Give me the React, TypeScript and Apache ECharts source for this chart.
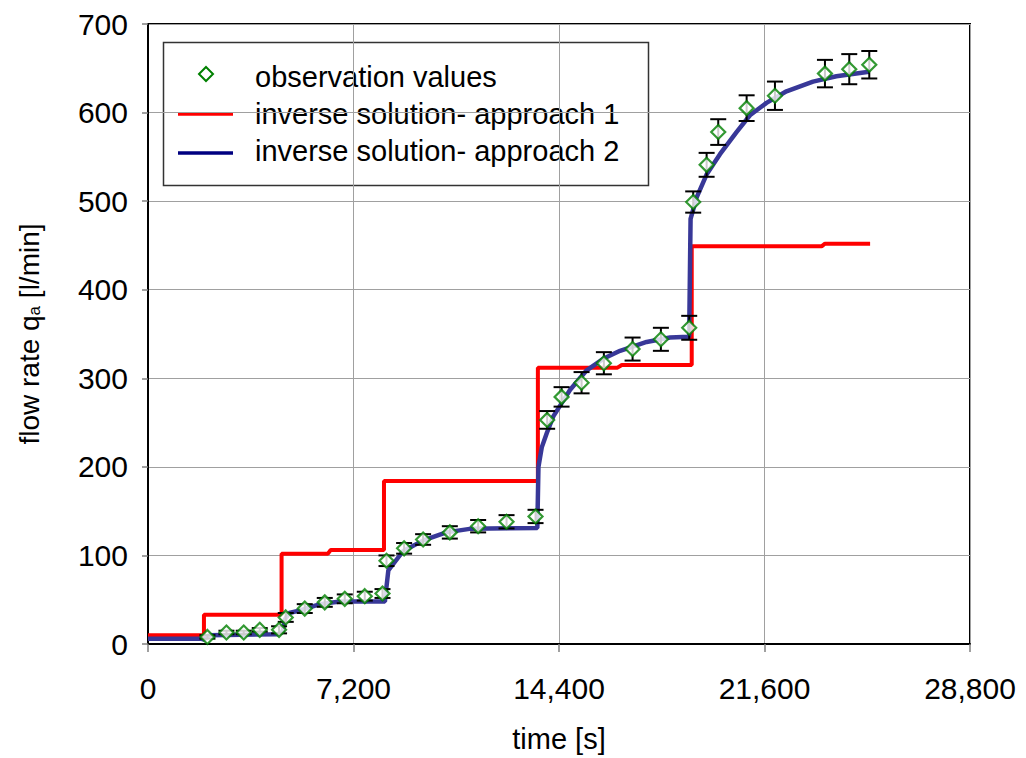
import React, { useEffect, useRef } from "react";
import * as echarts from "echarts";

// observation values (time [s], flow rate [l/min], error)
const obsT = [2082, 2748, 3354, 3915, 4592, 4826, 5492, 6193, 6894, 7595, 8216, 8356, 8973, 9639, 10575, 11567, 12562, 13578, 13985, 14490, 15191, 15972, 16978, 17970, 18962, 19102, 19572, 19979, 20974, 21966, 23718, 24570, 25271];
const obsQ = [8, 13, 13, 16, 16, 30, 40, 47, 51, 54, 57, 94, 108, 118, 126, 133, 138, 144, 253, 279, 295, 317, 333, 344, 357, 499, 541, 578, 605, 619, 644, 649, 654];
const obsErr = [2, 2, 2, 2, 4, 5, 5, 5, 5, 5, 5, 6, 6, 6, 7, 7, 7.5, 7.5, 10, 11, 12, 12.5, 13, 13, 13.5, 12, 13.5, 14.5, 14.5, 16, 15.5, 17, 15.5];

// inverse solution - approach 1
const redT = [0, 1960, 1960, 4680, 4680, 6300, 6400, 8268, 8268, 13660, 13660, 16450, 16600, 19050, 19050, 23600, 23720, 25300];
const redQ = [10, 10, 33, 33, 102, 102, 106, 106, 184, 184, 312, 312, 315, 315, 449, 449, 452, 452];

// inverse solution - approach 2
const blueT = [0, 1850, 1960, 2150, 4550, 4720, 4800, 4950, 5325, 6026, 6727, 8300, 8340, 8420, 8942, 9650, 10450, 11270, 13640, 13680, 13796, 13970, 14200, 14494, 14790, 15370, 15950, 16540, 17470, 18290, 18960, 19010, 19220, 19570, 20040, 20620, 21090, 21670, 22370, 23300, 24120, 25260];
const blueQ = [6, 6, 5, 10, 11, 14, 28, 35, 38, 45, 48, 48, 60, 83, 105, 117, 126, 130, 131, 200, 222, 238, 257, 272, 287, 309, 322, 331, 341, 346, 347, 480, 504, 530, 553, 578, 597, 611, 624, 635, 641, 646];

const xTicks = { min: 0, max: 28800, interval: 7200 };
const yTicks = { min: 0, max: 700, interval: 100 };

const legendLabels = [
  "observation values",
  "inverse solution- approach 1",
  "inverse solution- approach 2",
];

const FONT = '"Liberation Sans", Arial, sans-serif';

export default function App() {
  const ref = useRef<HTMLDivElement>(null);

  useEffect(() => {
    document.body.style.margin = "0";
    if (!ref.current) return;
    const chart = echarts.init(ref.current, null, { renderer: "svg" });

    const obsData = obsT.map((t, i) => [t, obsQ[i]]);
    const errData = obsT.map((t, i) => [t, obsQ[i], obsErr[i]]);
    const redData = redT.map((t, i) => [t, redQ[i]]);
    const blueData = blueT.map((t, i) => [t, blueQ[i]]);

    const option: any = {
      animation: false,
      textStyle: { fontFamily: FONT },
      grid: {
        left: 148,
        right: 56,
        top: 24,
        bottom: 111,
        show: true,
        borderColor: "#000",
        borderWidth: 2,
        backgroundColor: "#fff",
      },
      xAxis: {
        type: "value",
        min: xTicks.min,
        max: xTicks.max,
        interval: xTicks.interval,
        name: "time [s]",
        nameLocation: "middle",
        nameGap: 80,
        nameTextStyle: { fontSize: 29, color: "#000", fontFamily: FONT },
        axisLine: { show: true, lineStyle: { color: "#000", width: 2 } },
        axisTick: { show: true, inside: false, length: 8, lineStyle: { color: "#808080", width: 1.5 } },
        axisLabel: {
          fontSize: 30,
          color: "#000",
          margin: 29,
          fontFamily: FONT,
          formatter: (v: number) => v.toLocaleString("en-US"),
        },
        splitLine: { show: true, lineStyle: { color: "#a0a0a0", width: 1 } },
      },
      yAxis: {
        type: "value",
        min: yTicks.min,
        max: yTicks.max,
        interval: yTicks.interval,
        name: "flow rate q{a|a} [l/min]",
        nameLocation: "middle",
        nameGap: 105,
        nameRotate: 90,
        nameTextStyle: {
          fontSize: 28,
          color: "#000",
          fontFamily: FONT,
          rich: {
            a: { fontSize: 17, color: "#000", fontFamily: FONT, verticalAlign: "bottom", lineHeight: 17, padding: [12, 0, 0, 0] },
          },
        },
        axisLine: { show: true, lineStyle: { color: "#000", width: 2 } },
        axisTick: { show: true, inside: false, length: 6, lineStyle: { color: "#808080", width: 1.5 } },
        axisLabel: { fontSize: 30, color: "#000", margin: 20, fontFamily: FONT },
        splitLine: { show: true, lineStyle: { color: "#a0a0a0", width: 1 } },
      },
      series: [
        {
          name: legendLabels[1],
          type: "line",
          data: redData,
          showSymbol: false,
          symbol: "none",
          lineStyle: { color: "#ff0000", width: 4 },
          z: 2,
        },
        {
          name: legendLabels[2],
          type: "line",
          data: blueData,
          showSymbol: false,
          symbol: "none",
          lineStyle: { color: "#383898", width: 4.5 },
          z: 3,
        },
        {
          name: "error",
          type: "custom",
          data: errData,
          encode: { x: 0, y: 1 },
          z: 4,
          renderItem: (params: any, api: any) => {
            const t = api.value(0);
            const q = api.value(1);
            const e = api.value(2);
            const lo = api.coord([t, q - e]);
            const hi = api.coord([t, q + e]);
            const half = 8;
            const style = { stroke: "#000", lineWidth: 2 };
            return {
              type: "group",
              children: [
                { type: "line", shape: { x1: lo[0], y1: lo[1], x2: hi[0], y2: hi[1] }, style },
                { type: "line", shape: { x1: lo[0] - half, y1: lo[1], x2: lo[0] + half, y2: lo[1] }, style },
                { type: "line", shape: { x1: hi[0] - half, y1: hi[1], x2: hi[0] + half, y2: hi[1] }, style },
              ],
            };
          },
        },
        {
          name: legendLabels[0],
          type: "scatter",
          data: obsData,
          symbol: "diamond",
          symbolSize: 14,
          itemStyle: { color: "#ffffff", borderColor: "#008000", borderWidth: 2.2 },
          z: 5,
        },
      ],
      graphic: [
        {
          type: "group",
          z: 100,
          children: [
            {
              type: "rect",
              shape: { x: 163.5, y: 42.5, width: 485, height: 143 },
              style: { fill: "#fff", stroke: "#333", lineWidth: 1.5 },
            },
            {
              type: "polygon",
              shape: { points: [[206, 67], [213, 74], [206, 81], [199, 74]] },
              style: { fill: "#fff", stroke: "#008000", lineWidth: 2 },
            },
            {
              type: "line",
              shape: { x1: 178, y1: 114, x2: 233, y2: 114 },
              style: { stroke: "#ff0000", lineWidth: 3.5 },
            },
            {
              type: "line",
              shape: { x1: 178, y1: 153, x2: 233, y2: 153 },
              style: { stroke: "#000080", lineWidth: 3.5 },
            },
            ...legendLabels.map((txt, i) => ({
              type: "text",
              x: 255,
              y: [77, 114, 151][i],
              style: {
                text: txt,
                fontSize: 29,
                fontFamily: FONT,
                fill: "#000",
                verticalAlign: "middle",
                align: "left",
              },
            })),
          ],
        },
      ],
    };

    chart.setOption(option);
    return () => chart.dispose();
  }, []);

  return <div ref={ref} style={{ width: 1026, height: 758 }} />;
}
